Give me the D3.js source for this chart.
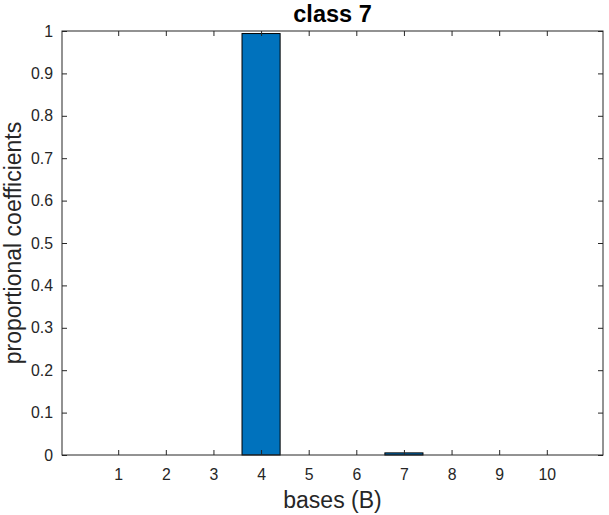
<!DOCTYPE html>
<html><head><meta charset="utf-8">
<script src="https://cdn.jsdelivr.net/npm/d3@7"></script>
<style>body{margin:0;background:#fff}svg{display:block}text{font-family:"Liberation Sans",Arial,sans-serif}</style>
</head><body>
<svg id="c" width="609" height="515"></svg>
<script>
const categories = [1,2,3,4,5,6,7,8,9,10];
const values = [0,0,0,0.994,0,0,0.005,0,0,0];
const yTicks = [0,0.1,0.2,0.3,0.4,0.5,0.6,0.7,0.8,0.9,1];
const yTickLabels = ["0","0.1","0.2","0.3","0.4","0.5","0.6","0.7","0.8","0.9","1"];
const title = "class 7", xLabel = "bases (B)", yLabel = "proportional coefficients";

const svg = d3.select("#c");
const L=62, R=603, T=31, B=455;
const ax = "#262626";
const x = d3.scaleLinear().domain([-0.18,11.18]).range([L,R]);
const y = d3.scaleLinear().domain([0,1]).range([B,T]);
const bw = 0.8;

svg.append("rect").attr("x",L).attr("y",T).attr("width",R-L).attr("height",B-T).attr("fill","#fff");

svg.selectAll("rect.bar").data(categories.map((c,i)=>({c,v:values[i]})).filter(d=>d.v>0))
  .enter().append("rect").attr("class","bar")
  .attr("x",d=>x(d.c-bw/2)).attr("width",d=>x(d.c+bw/2)-x(d.c-bw/2))
  .attr("y",d=>y(d.v)).attr("height",d=>y(0)-y(d.v))
  .attr("fill","#0072BD").attr("stroke","#000").attr("stroke-width",1);

const tl = 5;
const xb = d3.axisBottom(x).tickValues(categories).tickSize(-tl).tickPadding(14).tickFormat(d3.format("d"));
const xt = d3.axisTop(x).tickValues(categories).tickSize(-tl).tickFormat("");
const yl = d3.axisLeft(y).tickValues(yTicks).tickSize(-tl).tickPadding(9).tickFormat((d,i)=>yTickLabels[i]);
const yr = d3.axisRight(y).tickValues(yTicks).tickSize(-tl).tickFormat("");

function style(g){
  g.select(".domain").remove();
  g.selectAll("line").attr("stroke",ax);
  g.selectAll("text").attr("fill",ax).style("font-size","15.8px");
}
svg.append("g").attr("transform",`translate(0,${B})`).call(xb).call(style);
svg.append("g").attr("transform",`translate(0,${T})`).call(xt).call(style);
svg.append("g").attr("transform",`translate(${L},0)`).call(yl).call(style);
svg.append("g").attr("transform",`translate(${R},0)`).call(yr).call(style);

svg.append("rect").attr("x",L).attr("y",T).attr("width",R-L).attr("height",B-T)
  .attr("fill","none").attr("stroke",ax).attr("stroke-width",1);

svg.append("text").attr("x",(L+R)/2).attr("y",21.5).attr("text-anchor","middle")
  .style("font-size","23.5px").style("font-weight","bold").attr("fill","#000").text(title);
svg.append("text").attr("x",(L+R)/2).attr("y",508).attr("text-anchor","middle")
  .style("font-size","23px").attr("fill",ax).text(xLabel);
svg.append("text").attr("transform",`translate(21,${(T+B)/2}) rotate(-90)`).attr("text-anchor","middle")
  .style("font-size","23px").attr("fill",ax).text(yLabel);
</script>
</body></html>
